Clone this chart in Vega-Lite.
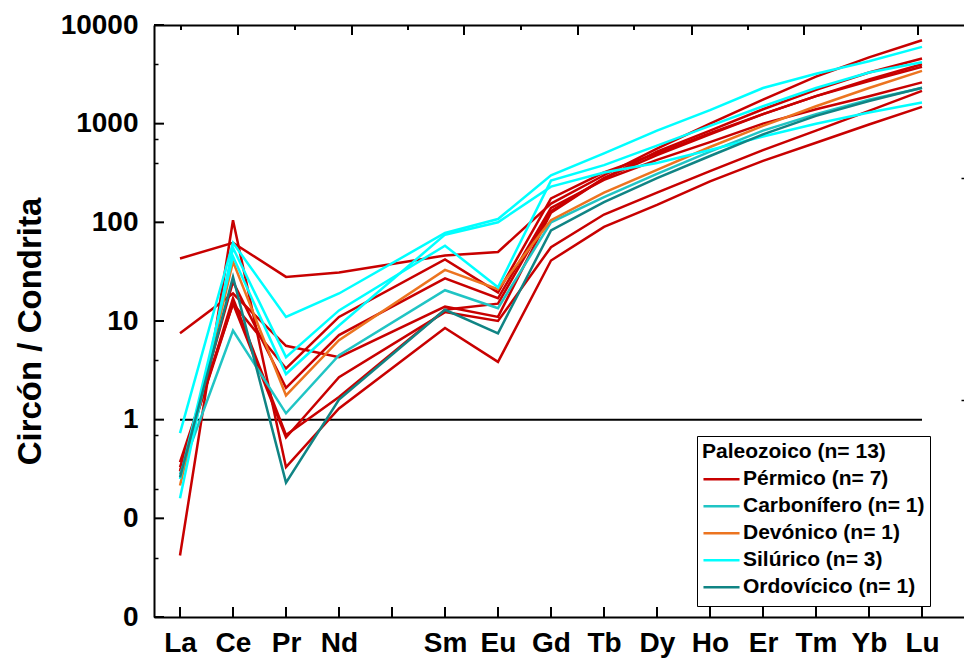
{
  "$schema": "https://vega.github.io/schema/vega-lite/v6.json",
  "autosize": "none",
  "width": 810,
  "height": 592,
  "padding": {"left": 154, "top": 25, "right": 0, "bottom": 43},
  "background": "white",
  "config": {
    "font": "Liberation Sans",
    "view": {"stroke": null},
    "axis": {"grid": false, "domainColor": "black", "domainWidth": 2, "tickColor": "black", "tickWidth": 2, "labelColor": "black", "titleColor": "black"}
  },
  "resolve": {"axis": {"x": "independent", "y": "independent"}},
  "layer": [
    {
      "data": {"values": [{"v": 1, "z1": 57, "z2": 71}]},
      "mark": {"type": "rule", "color": "black", "strokeWidth": 2},
      "encoding": {
        "x": {"field": "z1", "type": "quantitative", "scale": {"domain": [56.5094, 71.7925], "nice": false, "zero": false},
              "axis": {"orient": "top", "title": null, "labels": false, "domain": true, "ticks": false, "values": [60]}},
        "x2": {"field": "z2"},
        "y": {"field": "v", "type": "quantitative", "scale": {"type": "log", "domain": [0.01, 10000], "nice": false}, "axis": null}
      }
    },
    {
      "data": {"values": [{"t": 58.094}, {"t": 60.245}, {"t": 62.358}, {"t": 64.509}, {"t": 66.66}, {"t": 68.774}, {"t": 70.925}]},
      "mark": {"type": "rule", "color": "black", "strokeWidth": 2},
      "encoding": {
        "x": {"field": "t", "type": "quantitative", "axis": null},
        "y": {"datum": 10000, "type": "quantitative", "axis": null},
        "y2": {"datum": 7918}
      }
    },
    {
      "data": {"values": [{"t": 57.019}, {"t": 59.17}, {"t": 61.302}, {"t": 63.434}, {"t": 65.566}, {"t": 67.717}, {"t": 69.849}]},
      "mark": {"type": "rule", "color": "black", "strokeWidth": 2},
      "encoding": {
        "x": {"field": "t", "type": "quantitative", "axis": null},
        "y": {"datum": 10000, "type": "quantitative", "axis": null},
        "y2": {"datum": 8898}
      }
    },
    {
      "data": {"values": [{"t": 0.01}, {"t": 0.1}, {"t": 1}, {"t": 10}, {"t": 100}, {"t": 1000}, {"t": 10000}]},
      "mark": {"type": "rule", "color": "black", "strokeWidth": 2},
      "encoding": {
        "y": {"field": "t", "type": "quantitative", "axis": null},
        "x": {"datum": 56.5094, "type": "quantitative", "axis": null},
        "x2": {"datum": 56.698}
      }
    },
    {
      "data": {"values": [{"t": 57}, {"t": 58}, {"t": 59}, {"t": 60}, {"t": 61}, {"t": 62}, {"t": 63}, {"t": 64}, {"t": 65}, {"t": 66}, {"t": 67}, {"t": 68}, {"t": 69}, {"t": 70}, {"t": 71}]},
      "mark": {"type": "rule", "color": "black", "strokeWidth": 2},
      "encoding": {
        "x": {"field": "t", "type": "quantitative", "axis": null},
        "y": {"datum": 0.01, "type": "quantitative", "axis": null},
        "y2": {"datum": 0.01263}
      }
    },
    {
      "data": {"values": [{"v": 1, "z1": 57, "z2": 71}]},
      "mark": {"type": "rule", "opacity": 0},
      "encoding": {
        "x": {"field": "z1", "type": "quantitative", "axis": null},
        "x2": {"field": "z2"},
        "y": {"field": "v", "type": "quantitative",
              "axis": {"orient": "left", "title": null, "labels": false, "domain": false, "ticks": true, "tickSize": 4, "tickWidth": 1.5, "offset": -4,
                       "values": [4000, 700, 400, 4, 0.7, 0.2, 0.04]}}
      }
    },
    {
      "data": {"values": [{"v": 1, "z1": 57, "z2": 71}]},
      "mark": {"type": "rule", "opacity": 0},
      "encoding": {
        "x": {"field": "z1", "type": "quantitative", "axis": null},
        "x2": {"field": "z2"},
        "y": {"field": "v", "type": "quantitative",
              "axis": {"orient": "right", "title": null, "labels": false, "domain": false, "ticks": true, "tickSize": 3, "tickWidth": 1.5, "offset": -3,
                       "values": [280, 1.6]}}
      }
    },
    {
      "data": {"values": [
{"id":"P1","g":"Pérmico (n= 7)","e":"La","z":57,"v":43},{"id":"P1","g":"Pérmico (n= 7)","e":"Ce","z":58,"v":62},{"id":"P1","g":"Pérmico (n= 7)","e":"Pr","z":59,"v":28},{"id":"P1","g":"Pérmico (n= 7)","e":"Nd","z":60,"v":31},{"id":"P1","g":"Pérmico (n= 7)","e":"Sm","z":62,"v":46},{"id":"P1","g":"Pérmico (n= 7)","e":"Eu","z":63,"v":50},{"id":"P1","g":"Pérmico (n= 7)","e":"Gd","z":64,"v":155},{"id":"P1","g":"Pérmico (n= 7)","e":"Tb","z":65,"v":300},{"id":"P1","g":"Pérmico (n= 7)","e":"Dy","z":66,"v":560},{"id":"P1","g":"Pérmico (n= 7)","e":"Ho","z":67,"v":1000},{"id":"P1","g":"Pérmico (n= 7)","e":"Er","z":68,"v":1750},{"id":"P1","g":"Pérmico (n= 7)","e":"Tm","z":69,"v":3000},{"id":"P1","g":"Pérmico (n= 7)","e":"Yb","z":70,"v":4700},{"id":"P1","g":"Pérmico (n= 7)","e":"Lu","z":71,"v":7000},
{"id":"P2","g":"Pérmico (n= 7)","e":"La","z":57,"v":7.5},{"id":"P2","g":"Pérmico (n= 7)","e":"Ce","z":58,"v":19},{"id":"P2","g":"Pérmico (n= 7)","e":"Pr","z":59,"v":5.6},{"id":"P2","g":"Pérmico (n= 7)","e":"Nd","z":60,"v":4.3},{"id":"P2","g":"Pérmico (n= 7)","e":"Sm","z":62,"v":14},{"id":"P2","g":"Pérmico (n= 7)","e":"Eu","z":63,"v":11},{"id":"P2","g":"Pérmico (n= 7)","e":"Gd","z":64,"v":125},{"id":"P2","g":"Pérmico (n= 7)","e":"Tb","z":65,"v":280},{"id":"P2","g":"Pérmico (n= 7)","e":"Dy","z":66,"v":520},{"id":"P2","g":"Pérmico (n= 7)","e":"Ho","z":67,"v":850},{"id":"P2","g":"Pérmico (n= 7)","e":"Er","z":68,"v":1400},{"id":"P2","g":"Pérmico (n= 7)","e":"Tm","z":69,"v":2200},{"id":"P2","g":"Pérmico (n= 7)","e":"Yb","z":70,"v":3300},{"id":"P2","g":"Pérmico (n= 7)","e":"Lu","z":71,"v":4580},
{"id":"P3","g":"Pérmico (n= 7)","e":"La","z":57,"v":0.37},{"id":"P3","g":"Pérmico (n= 7)","e":"Ce","z":58,"v":15},{"id":"P3","g":"Pérmico (n= 7)","e":"Pr","z":59,"v":3.3},{"id":"P3","g":"Pérmico (n= 7)","e":"Nd","z":60,"v":11},{"id":"P3","g":"Pérmico (n= 7)","e":"Sm","z":62,"v":42},{"id":"P3","g":"Pérmico (n= 7)","e":"Eu","z":63,"v":19.5},{"id":"P3","g":"Pérmico (n= 7)","e":"Gd","z":64,"v":175},{"id":"P3","g":"Pérmico (n= 7)","e":"Tb","z":65,"v":320},{"id":"P3","g":"Pérmico (n= 7)","e":"Dy","z":66,"v":500},{"id":"P3","g":"Pérmico (n= 7)","e":"Ho","z":67,"v":800},{"id":"P3","g":"Pérmico (n= 7)","e":"Er","z":68,"v":1250},{"id":"P3","g":"Pérmico (n= 7)","e":"Tm","z":69,"v":1900},{"id":"P3","g":"Pérmico (n= 7)","e":"Yb","z":70,"v":2700},{"id":"P3","g":"Pérmico (n= 7)","e":"Lu","z":71,"v":3770},
{"id":"P4","g":"Pérmico (n= 7)","e":"La","z":57,"v":0.3},{"id":"P4","g":"Pérmico (n= 7)","e":"Ce","z":58,"v":25},{"id":"P4","g":"Pérmico (n= 7)","e":"Pr","z":59,"v":2.1},{"id":"P4","g":"Pérmico (n= 7)","e":"Nd","z":60,"v":7.2},{"id":"P4","g":"Pérmico (n= 7)","e":"Sm","z":62,"v":27},{"id":"P4","g":"Pérmico (n= 7)","e":"Eu","z":63,"v":17},{"id":"P4","g":"Pérmico (n= 7)","e":"Gd","z":64,"v":140},{"id":"P4","g":"Pérmico (n= 7)","e":"Tb","z":65,"v":270},{"id":"P4","g":"Pérmico (n= 7)","e":"Dy","z":66,"v":430},{"id":"P4","g":"Pérmico (n= 7)","e":"Ho","z":67,"v":650},{"id":"P4","g":"Pérmico (n= 7)","e":"Er","z":68,"v":1000},{"id":"P4","g":"Pérmico (n= 7)","e":"Tm","z":69,"v":1400},{"id":"P4","g":"Pérmico (n= 7)","e":"Yb","z":70,"v":1900},{"id":"P4","g":"Pérmico (n= 7)","e":"Lu","z":71,"v":2620},
{"id":"P5","g":"Pérmico (n= 7)","e":"La","z":57,"v":0.33},{"id":"P5","g":"Pérmico (n= 7)","e":"Ce","z":58,"v":15},{"id":"P5","g":"Pérmico (n= 7)","e":"Pr","z":59,"v":0.66},{"id":"P5","g":"Pérmico (n= 7)","e":"Nd","z":60,"v":2.7},{"id":"P5","g":"Pérmico (n= 7)","e":"Sm","z":62,"v":12.3},{"id":"P5","g":"Pérmico (n= 7)","e":"Eu","z":63,"v":10},{"id":"P5","g":"Pérmico (n= 7)","e":"Gd","z":64,"v":56},{"id":"P5","g":"Pérmico (n= 7)","e":"Tb","z":65,"v":120},{"id":"P5","g":"Pérmico (n= 7)","e":"Dy","z":66,"v":200},{"id":"P5","g":"Pérmico (n= 7)","e":"Ho","z":67,"v":330},{"id":"P5","g":"Pérmico (n= 7)","e":"Er","z":68,"v":540},{"id":"P5","g":"Pérmico (n= 7)","e":"Tm","z":69,"v":850},{"id":"P5","g":"Pérmico (n= 7)","e":"Yb","z":70,"v":1350},{"id":"P5","g":"Pérmico (n= 7)","e":"Lu","z":71,"v":2150},
{"id":"P6","g":"Pérmico (n= 7)","e":"La","z":57,"v":0.042},{"id":"P6","g":"Pérmico (n= 7)","e":"Ce","z":58,"v":105},{"id":"P6","g":"Pérmico (n= 7)","e":"Pr","z":59,"v":0.33},{"id":"P6","g":"Pérmico (n= 7)","e":"Nd","z":60,"v":1.3},{"id":"P6","g":"Pérmico (n= 7)","e":"Sm","z":62,"v":8.5},{"id":"P6","g":"Pérmico (n= 7)","e":"Eu","z":63,"v":3.85},{"id":"P6","g":"Pérmico (n= 7)","e":"Gd","z":64,"v":41},{"id":"P6","g":"Pérmico (n= 7)","e":"Tb","z":65,"v":90},{"id":"P6","g":"Pérmico (n= 7)","e":"Dy","z":66,"v":150},{"id":"P6","g":"Pérmico (n= 7)","e":"Ho","z":67,"v":260},{"id":"P6","g":"Pérmico (n= 7)","e":"Er","z":68,"v":420},{"id":"P6","g":"Pérmico (n= 7)","e":"Tm","z":69,"v":640},{"id":"P6","g":"Pérmico (n= 7)","e":"Yb","z":70,"v":980},{"id":"P6","g":"Pérmico (n= 7)","e":"Lu","z":71,"v":1480},
{"id":"P7","g":"Pérmico (n= 7)","e":"La","z":57,"v":0.3},{"id":"P7","g":"Pérmico (n= 7)","e":"Ce","z":58,"v":17},{"id":"P7","g":"Pérmico (n= 7)","e":"Pr","z":59,"v":0.7},{"id":"P7","g":"Pérmico (n= 7)","e":"Nd","z":60,"v":1.7},{"id":"P7","g":"Pérmico (n= 7)","e":"Sm","z":62,"v":13},{"id":"P7","g":"Pérmico (n= 7)","e":"Eu","z":63,"v":15},{"id":"P7","g":"Pérmico (n= 7)","e":"Gd","z":64,"v":130},{"id":"P7","g":"Pérmico (n= 7)","e":"Tb","z":65,"v":280},{"id":"P7","g":"Pérmico (n= 7)","e":"Dy","z":66,"v":480},{"id":"P7","g":"Pérmico (n= 7)","e":"Ho","z":67,"v":780},{"id":"P7","g":"Pérmico (n= 7)","e":"Er","z":68,"v":1250},{"id":"P7","g":"Pérmico (n= 7)","e":"Tm","z":69,"v":1900},{"id":"P7","g":"Pérmico (n= 7)","e":"Yb","z":70,"v":2800},{"id":"P7","g":"Pérmico (n= 7)","e":"Lu","z":71,"v":4000},
{"id":"C1","g":"Carbonífero (n= 1)","e":"La","z":57,"v":0.28},{"id":"C1","g":"Carbonífero (n= 1)","e":"Ce","z":58,"v":8},{"id":"C1","g":"Carbonífero (n= 1)","e":"Pr","z":59,"v":1.16},{"id":"C1","g":"Carbonífero (n= 1)","e":"Nd","z":60,"v":4.5},{"id":"C1","g":"Carbonífero (n= 1)","e":"Sm","z":62,"v":20.5},{"id":"C1","g":"Carbonífero (n= 1)","e":"Eu","z":63,"v":13.5},{"id":"C1","g":"Carbonífero (n= 1)","e":"Gd","z":64,"v":100},{"id":"C1","g":"Carbonífero (n= 1)","e":"Tb","z":65,"v":180},{"id":"C1","g":"Carbonífero (n= 1)","e":"Dy","z":66,"v":310},{"id":"C1","g":"Carbonífero (n= 1)","e":"Ho","z":67,"v":520},{"id":"C1","g":"Carbonífero (n= 1)","e":"Er","z":68,"v":850},{"id":"C1","g":"Carbonífero (n= 1)","e":"Tm","z":69,"v":1250},{"id":"C1","g":"Carbonífero (n= 1)","e":"Yb","z":70,"v":1750},{"id":"C1","g":"Carbonífero (n= 1)","e":"Lu","z":71,"v":2300},
{"id":"D1","g":"Devónico (n= 1)","e":"La","z":57,"v":0.215},{"id":"D1","g":"Devónico (n= 1)","e":"Ce","z":58,"v":40},{"id":"D1","g":"Devónico (n= 1)","e":"Pr","z":59,"v":1.76},{"id":"D1","g":"Devónico (n= 1)","e":"Nd","z":60,"v":6.4},{"id":"D1","g":"Devónico (n= 1)","e":"Sm","z":62,"v":33},{"id":"D1","g":"Devónico (n= 1)","e":"Eu","z":63,"v":21},{"id":"D1","g":"Devónico (n= 1)","e":"Gd","z":64,"v":105},{"id":"D1","g":"Devónico (n= 1)","e":"Tb","z":65,"v":200},{"id":"D1","g":"Devónico (n= 1)","e":"Dy","z":66,"v":340},{"id":"D1","g":"Devónico (n= 1)","e":"Ho","z":67,"v":580},{"id":"D1","g":"Devónico (n= 1)","e":"Er","z":68,"v":950},{"id":"D1","g":"Devónico (n= 1)","e":"Tm","z":69,"v":1500},{"id":"D1","g":"Devónico (n= 1)","e":"Yb","z":70,"v":2300},{"id":"D1","g":"Devónico (n= 1)","e":"Lu","z":71,"v":3430},
{"id":"S1","g":"Silúrico (n= 3)","e":"La","z":57,"v":0.73},{"id":"S1","g":"Silúrico (n= 3)","e":"Ce","z":58,"v":62},{"id":"S1","g":"Silúrico (n= 3)","e":"Pr","z":59,"v":11},{"id":"S1","g":"Silúrico (n= 3)","e":"Nd","z":60,"v":19},{"id":"S1","g":"Silúrico (n= 3)","e":"Sm","z":62,"v":78},{"id":"S1","g":"Silúrico (n= 3)","e":"Eu","z":63,"v":108},{"id":"S1","g":"Silúrico (n= 3)","e":"Gd","z":64,"v":300},{"id":"S1","g":"Silúrico (n= 3)","e":"Tb","z":65,"v":500},{"id":"S1","g":"Silúrico (n= 3)","e":"Dy","z":66,"v":850},{"id":"S1","g":"Silúrico (n= 3)","e":"Ho","z":67,"v":1370},{"id":"S1","g":"Silúrico (n= 3)","e":"Er","z":68,"v":2300},{"id":"S1","g":"Silúrico (n= 3)","e":"Tm","z":69,"v":3200},{"id":"S1","g":"Silúrico (n= 3)","e":"Yb","z":70,"v":4300},{"id":"S1","g":"Silúrico (n= 3)","e":"Lu","z":71,"v":6000},
{"id":"S2","g":"Silúrico (n= 3)","e":"La","z":57,"v":0.16},{"id":"S2","g":"Silúrico (n= 3)","e":"Ce","z":58,"v":55},{"id":"S2","g":"Silúrico (n= 3)","e":"Pr","z":59,"v":4.3},{"id":"S2","g":"Silúrico (n= 3)","e":"Nd","z":60,"v":12.8},{"id":"S2","g":"Silúrico (n= 3)","e":"Sm","z":62,"v":58},{"id":"S2","g":"Silúrico (n= 3)","e":"Eu","z":63,"v":22},{"id":"S2","g":"Silúrico (n= 3)","e":"Gd","z":64,"v":265},{"id":"S2","g":"Silúrico (n= 3)","e":"Tb","z":65,"v":380},{"id":"S2","g":"Silúrico (n= 3)","e":"Dy","z":66,"v":600},{"id":"S2","g":"Silúrico (n= 3)","e":"Ho","z":67,"v":950},{"id":"S2","g":"Silúrico (n= 3)","e":"Er","z":68,"v":1500},{"id":"S2","g":"Silúrico (n= 3)","e":"Tm","z":69,"v":2300},{"id":"S2","g":"Silúrico (n= 3)","e":"Yb","z":70,"v":3300},{"id":"S2","g":"Silúrico (n= 3)","e":"Lu","z":71,"v":4200},
{"id":"S3","g":"Silúrico (n= 3)","e":"La","z":57,"v":0.25},{"id":"S3","g":"Silúrico (n= 3)","e":"Ce","z":58,"v":45},{"id":"S3","g":"Silúrico (n= 3)","e":"Pr","z":59,"v":2.9},{"id":"S3","g":"Silúrico (n= 3)","e":"Nd","z":60,"v":9},{"id":"S3","g":"Silúrico (n= 3)","e":"Sm","z":62,"v":75},{"id":"S3","g":"Silúrico (n= 3)","e":"Eu","z":63,"v":100},{"id":"S3","g":"Silúrico (n= 3)","e":"Gd","z":64,"v":230},{"id":"S3","g":"Silúrico (n= 3)","e":"Tb","z":65,"v":320},{"id":"S3","g":"Silúrico (n= 3)","e":"Dy","z":66,"v":400},{"id":"S3","g":"Silúrico (n= 3)","e":"Ho","z":67,"v":540},{"id":"S3","g":"Silúrico (n= 3)","e":"Er","z":68,"v":740},{"id":"S3","g":"Silúrico (n= 3)","e":"Tm","z":69,"v":1000},{"id":"S3","g":"Silúrico (n= 3)","e":"Yb","z":70,"v":1300},{"id":"S3","g":"Silúrico (n= 3)","e":"Lu","z":71,"v":1640},
{"id":"O1","g":"Ordovícico (n= 1)","e":"La","z":57,"v":0.26},{"id":"O1","g":"Ordovícico (n= 1)","e":"Ce","z":58,"v":28},{"id":"O1","g":"Ordovícico (n= 1)","e":"Pr","z":59,"v":0.23},{"id":"O1","g":"Ordovícico (n= 1)","e":"Nd","z":60,"v":1.6},{"id":"O1","g":"Ordovícico (n= 1)","e":"Sm","z":62,"v":13},{"id":"O1","g":"Ordovícico (n= 1)","e":"Eu","z":63,"v":7.5},{"id":"O1","g":"Ordovícico (n= 1)","e":"Gd","z":64,"v":83},{"id":"O1","g":"Ordovícico (n= 1)","e":"Tb","z":65,"v":160},{"id":"O1","g":"Ordovícico (n= 1)","e":"Dy","z":66,"v":280},{"id":"O1","g":"Ordovícico (n= 1)","e":"Ho","z":67,"v":470},{"id":"O1","g":"Ordovícico (n= 1)","e":"Er","z":68,"v":780},{"id":"O1","g":"Ordovícico (n= 1)","e":"Tm","z":69,"v":1200},{"id":"O1","g":"Ordovícico (n= 1)","e":"Yb","z":70,"v":1700},{"id":"O1","g":"Ordovícico (n= 1)","e":"Lu","z":71,"v":2310}
      ]},
      "mark": {"type": "line", "strokeWidth": 2.5},
      "encoding": {
        "x": {"field": "z", "type": "quantitative", "scale": {"domain": [56.5094, 71.7925], "nice": false, "zero": false},
              "axis": {"orient": "bottom", "title": null, "values": [57,58,59,60,61,62,63,64,65,66,67,68,69,70,71],
                       "labelExpr": "['La','Ce','Pr','Nd','','Sm','Eu','Gd','Tb','Dy','Ho','Er','Tm','Yb','Lu'][datum.value-57]",
                       "ticks": false, "domain": true, "labelFontSize": 28, "labelFontWeight": "bold", "labelPadding": 12, "labelFlush": false, "labelOverlap": false}},
        "y": {"field": "v", "type": "quantitative", "scale": {"type": "log", "domain": [0.01, 10000], "nice": false},
              "axis": {"orient": "left", "title": "Circón / Condrita", "values": [0.01, 0.1, 1, 10, 100, 1000, 10000],
                       "labelExpr": "datum.value >= 1 ? format(datum.value, 'd') : '0'",
                       "ticks": false, "domain": true, "labelFontSize": 28, "labelFontWeight": "bold", "labelPadding": 16, "labelFlush": false, "labelOverlap": false,
                       "titleFontSize": 33, "titleFontWeight": "bold", "titleAngle": -90, "titleX": -124, "titleY": 306, "titleAlign": "center", "titleBaseline": "middle"}},
        "detail": {"field": "id"},
        "color": {"field": "g", "type": "nominal",
                  "scale": {"domain": ["Pérmico (n= 7)", "Carbonífero (n= 1)", "Devónico (n= 1)", "Silúrico (n= 3)", "Ordovícico (n= 1)"],
                            "range": ["#c80000", "#20c4c4", "#ec7420", "#00ffff", "#108484"]},
                  "legend": {"title": "Paleozoico (n= 13)", "orient": "none", "legendX": 543, "legendY": 411,
                             "titleFontSize": 21, "titleFontWeight": "bold", "titleColor": "black", "titlePadding": 4, "titleLimit": 400,
                             "labelFontSize": 21, "labelFontWeight": "bold", "labelColor": "black", "labelLimit": 0,
                             "symbolType": "stroke", "symbolSize": 1300, "symbolStrokeWidth": 2.5, "labelOffset": 2,
                             "clipHeight": 26.5, "rowPadding": 0, "padding": 5, "strokeColor": "black", "fillColor": "white", "cornerRadius": 0}}
      }
    }
  ]
}
